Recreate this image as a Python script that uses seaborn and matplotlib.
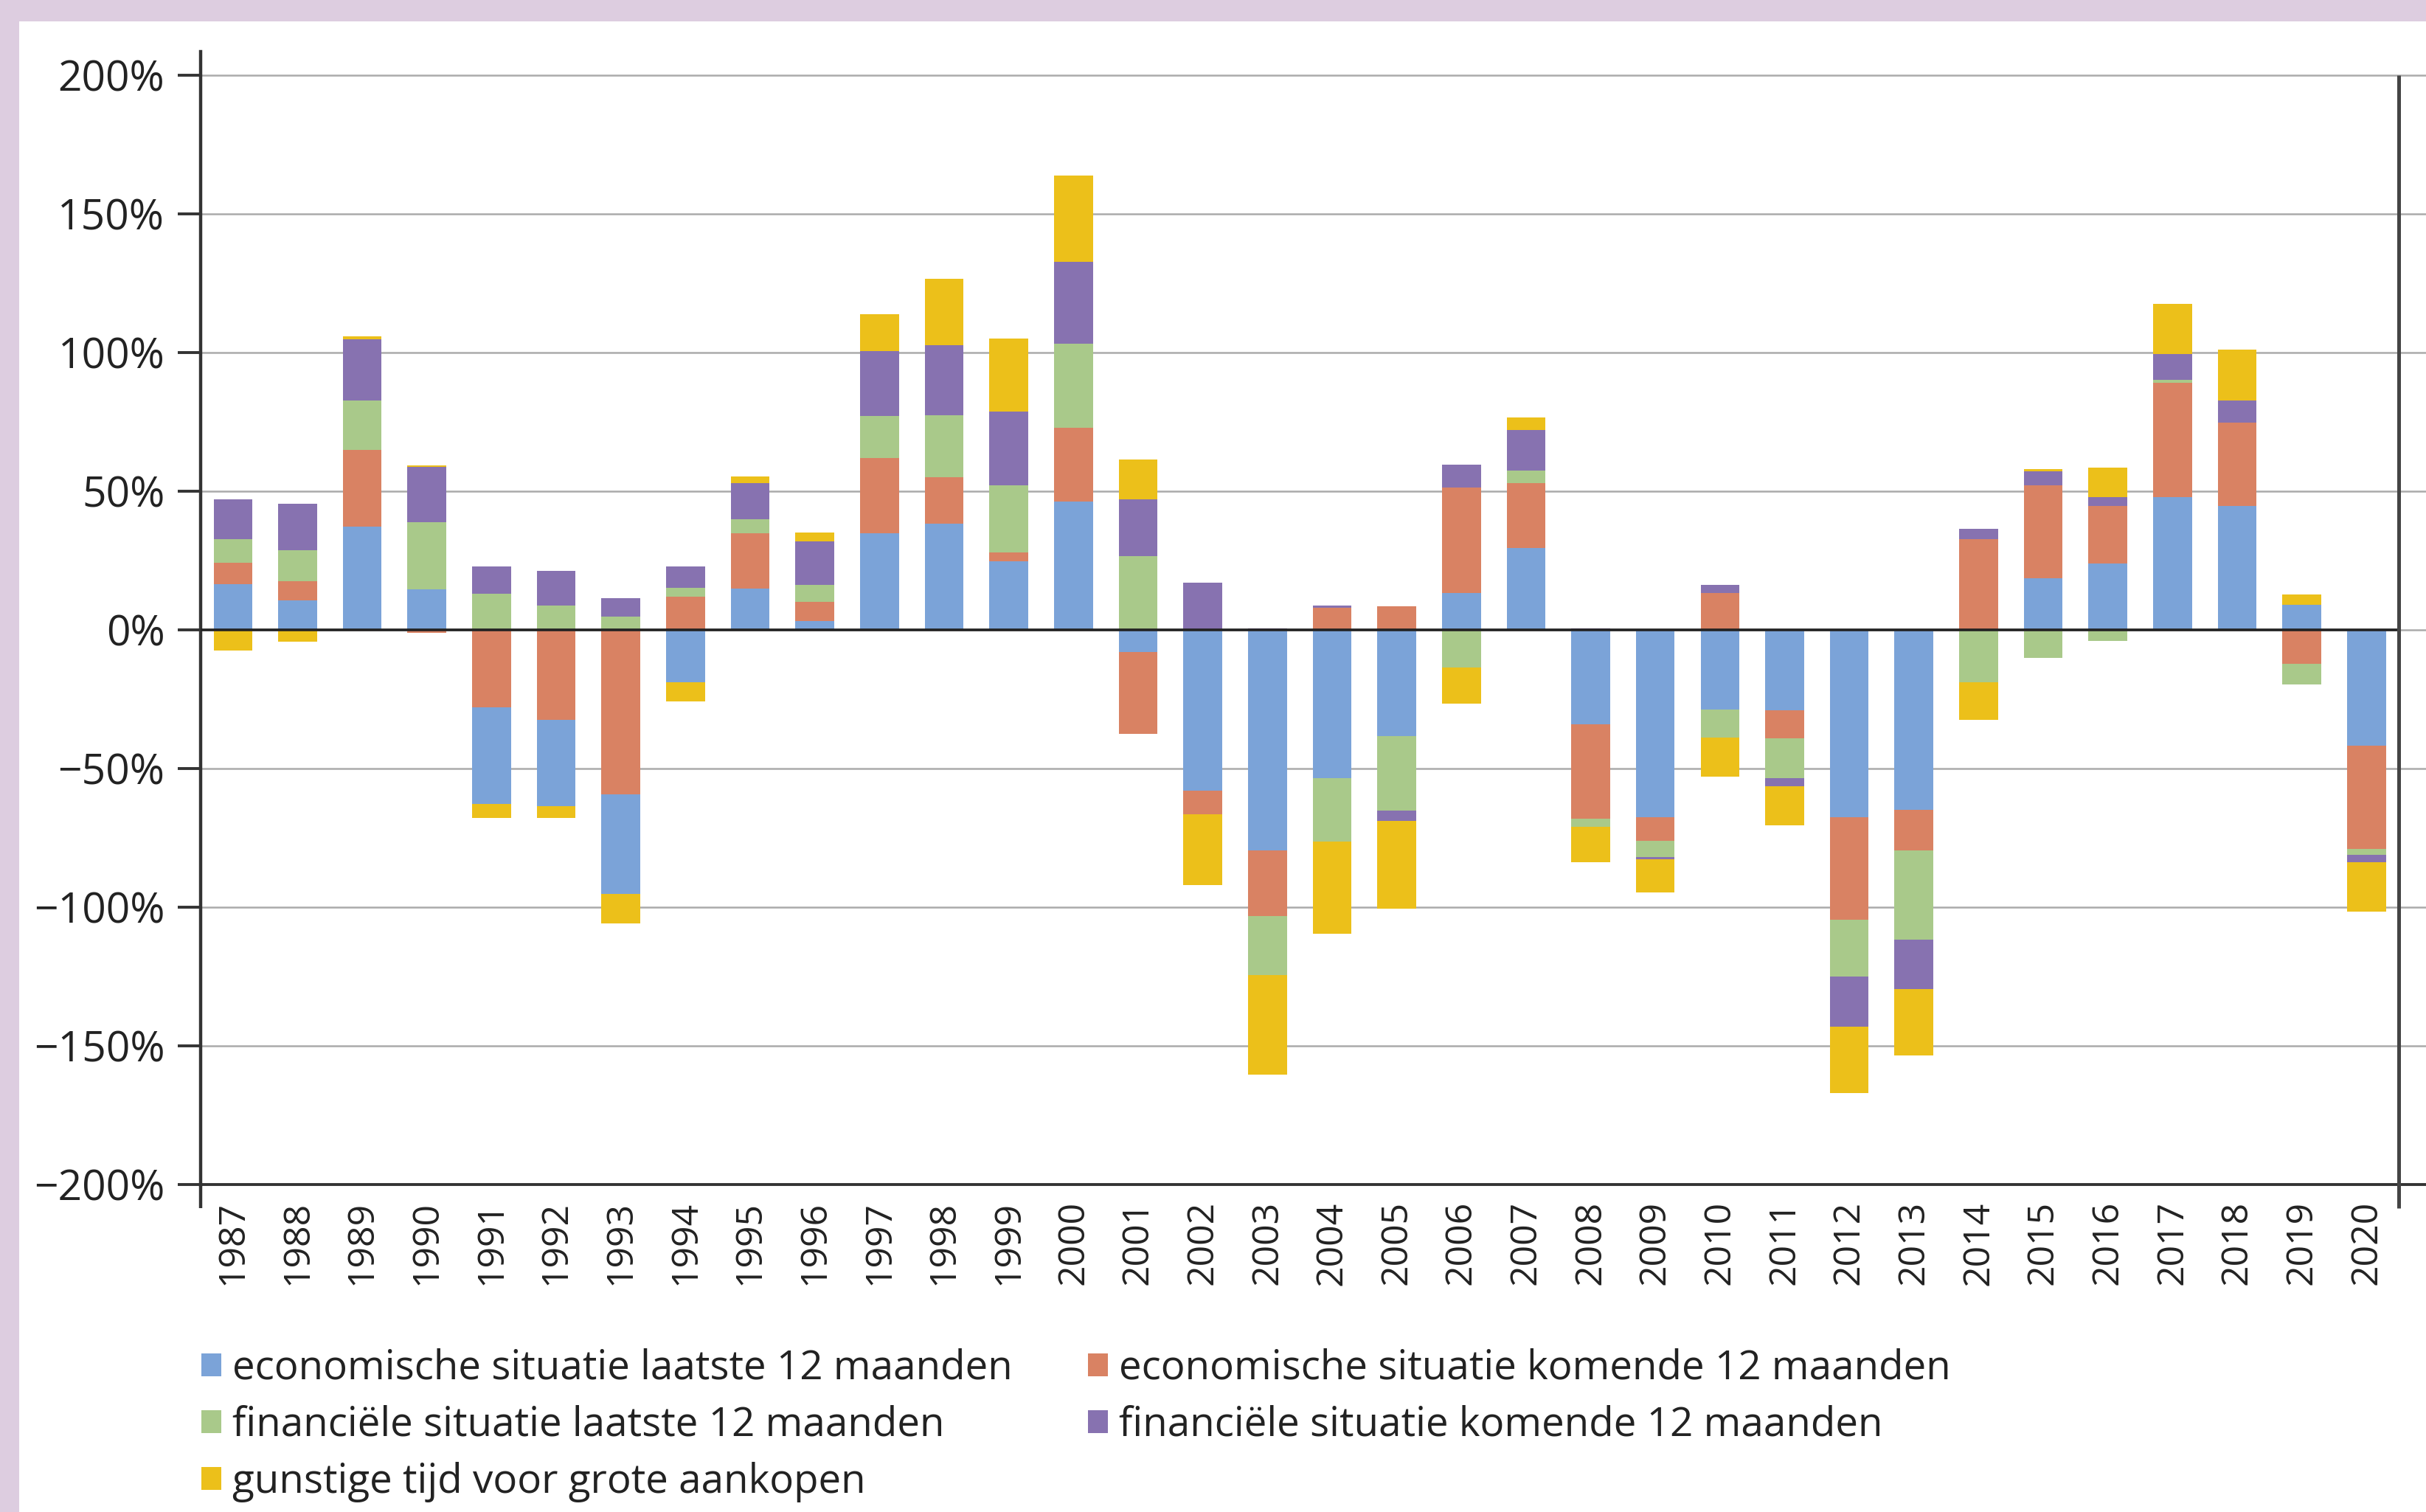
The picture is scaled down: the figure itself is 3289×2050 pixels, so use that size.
import numpy as np
import matplotlib
matplotlib.use("Agg")
import matplotlib.pyplot as plt
from matplotlib.patches import Rectangle, Patch
import seaborn as sns

# ---------------- data ----------------
years = [str(y) for y in range(1987, 2021)]

econ_past = [16.4, 10.6, 37.3, 14.6, -34.9, -31.0, -36.0, -19.0, 14.8, 3.2,
             34.9, 38.4, 24.6, 46.3, -7.9, -57.9, -79.4, -53.4, -38.4, 13.2,
             29.4, -34.1, -67.5, -28.8, -29.1, -67.5, -64.8, 0.0, 18.5, 23.8,
             47.9, 44.7, 9.0, -41.8]
econ_next = [7.7, 6.9, 27.5, -1.0, -28.0, -32.5, -59.3, 11.9, 20.1, 6.9,
             27.0, 16.7, 3.2, 26.5, -29.6, -8.7, -23.8, 7.9, 8.5, 38.1,
             23.5, -33.9, -8.7, 13.2, -10.0, -37.0, -14.8, 32.8, 33.6, 20.9,
             41.3, 29.9, -12.2, -37.3]
fin_past = [8.7, 11.1, 18.0, 24.1, 13.0, 8.7, 4.8, 3.2, 5.0, 6.1,
            15.3, 22.2, 24.3, 30.4, 26.5, 0.0, -21.2, -23.0, -26.7, -13.5,
            4.5, -2.9, -5.6, -10.0, -14.3, -20.6, -32.0, -19.0, -10.0, -4.0,
            1.0, 0.0, -7.4, -1.9]
fin_next = [14.3, 16.9, 22.0, 20.1, 9.8, 12.7, 6.6, 7.7, 13.0, 15.6,
            23.3, 25.4, 26.7, 29.6, 20.6, 16.9, 0.6, 0.8, -3.7, 8.2,
            14.8, 0.6, -1.0, 2.9, -2.9, -18.0, -18.0, 3.7, 5.0, 3.2,
            9.3, 8.2, 0.0, -2.9]
purchase = [-7.4, -4.2, 1.0, 0.5, -4.8, -4.2, -10.6, -6.9, 2.4, 3.4,
            13.2, 23.8, 26.2, 31.0, 14.3, -25.4, -36.0, -33.3, -31.7, -13.0,
            4.5, -13.0, -11.9, -14.0, -14.3, -23.8, -23.8, -13.5, 1.0, 10.6,
            18.0, 18.3, 3.7, -17.7]

series_names = ["economische situatie laatste 12 maanden",
                "economische situatie komende 12 maanden",
                "financiële situatie laatste 12 maanden",
                "financiële situatie komende 12 maanden",
                "gunstige tijd voor grote aankopen"]
series_colors = ["#7BA3D8", "#D98263", "#A9C98A", "#8772B0", "#ECC01A"]
# years in which the negative 'komende' segment is stacked next to the zero line
orange_first_years = ["1991", "1992", "1993"]

ytick_values = [-200, -150, -100, -50, 0, 50, 100, 150, 200]
ytick_labels = ["−200%", "−150%", "−100%", "−50%", "0%", "50%", "100%", "150%", "200%"]

# ---------------- style ----------------
sns.set_style("white")
plt.rcParams["font.family"] = ["Open Sans", "DejaVu Sans"]
TEXT = "#222222"

W, H, DPI = 3289, 2050, 200
fig = plt.figure(figsize=(W / DPI, H / DPI), dpi=DPI, facecolor="#DDCDE0")
fig.patches.append(Rectangle((26 / W, 0), 1, (H - 29) / H, transform=fig.transFigure,
                             facecolor="white", edgecolor="none", zorder=-10))

ax_left, ax_bottom, ax_top = 272, 444, 70
ax = fig.add_axes([ax_left / W, ax_bottom / H, 1 - ax_left / W, (H - ax_top - ax_bottom) / H])
ax.set_facecolor("none")

# ---------------- diverging stacks ----------------
values = [econ_past, econ_next, fin_past, fin_next, purchase]
n = len(years)
bottoms = [np.zeros(n) for _ in values]
for i, yr in enumerate(years):
    order = [1, 0, 2, 3, 4] if yr in orange_first_years else [0, 1, 2, 3, 4]
    p, m = 0.0, 0.0
    for k in order:
        v = values[k][i]
        if v >= 0:
            bottoms[k][i] = p
            p += v
        else:
            bottoms[k][i] = m
            m += v

for k in range(len(values)):
    sns.barplot(x=years, y=values[k], bottom=bottoms[k], order=years,
                color=series_colors[k], saturation=1, width=0.6,
                errorbar=None, linewidth=0, ax=ax, zorder=2)

# ---------------- axes ----------------
ax.set_ylim(-200, 208.5)
ax.set_xlim(-0.5, 33.92)
ax.set_xlabel("")
ax.set_ylabel("")

ax.set_yticks(ytick_values)
ax.set_yticklabels(ytick_labels)
ax.yaxis.grid(True, color="#ABABAB", linewidth=0.9, zorder=0)
ax.xaxis.grid(False)
ax.set_axisbelow(True)

ax.tick_params(axis="y", direction="out", length=11, width=1.4, pad=6.5,
               labelsize=20.5, colors="#333333", labelcolor=TEXT, left=True)
ax.tick_params(axis="x", length=0, pad=8, labelsize=18, labelcolor=TEXT)
for lab in ax.get_xticklabels():
    lab.set_rotation(90)
    lab.set_va("top")
    lab.set_ha("center")

for side in ["top", "right"]:
    ax.spines[side].set_visible(False)
ax.spines["left"].set_color("#333333")
ax.spines["left"].set_linewidth(1.6)
ax.spines["bottom"].set_color("#333333")
ax.spines["bottom"].set_linewidth(1.4)

# zero line, right frame line and spine extensions
ax.hlines(0, -0.5, 33.5, color="#222222", linewidth=1.3, zorder=4)
ax.vlines(33.5, -208.5, 200, color="#444444", linewidth=1.8, zorder=4, clip_on=False)
ax.vlines(-0.5, -208.5, -200, color="#333333", linewidth=1.6, zorder=4, clip_on=False)

# ---------------- legend ----------------
handles = [Patch(facecolor=c, edgecolor="none") for c in series_colors]
leg_kw = dict(frameon=False, fontsize=19.7, handlelength=0.5, handleheight=0.5,
              handletextpad=0.27, labelspacing=0.4, borderpad=0, borderaxespad=0,
              loc="upper left", labelcolor=TEXT)
fig.legend([handles[0], handles[2], handles[4]],
           [series_names[0], series_names[2], series_names[4]],
           bbox_to_anchor=(273 / W, 222 / H), **leg_kw)
fig.legend([handles[1], handles[3]],
           [series_names[1], series_names[3]],
           bbox_to_anchor=(1475 / W, 222 / H), **leg_kw)

fig.savefig("out.png", dpi=DPI, facecolor=fig.get_facecolor())
